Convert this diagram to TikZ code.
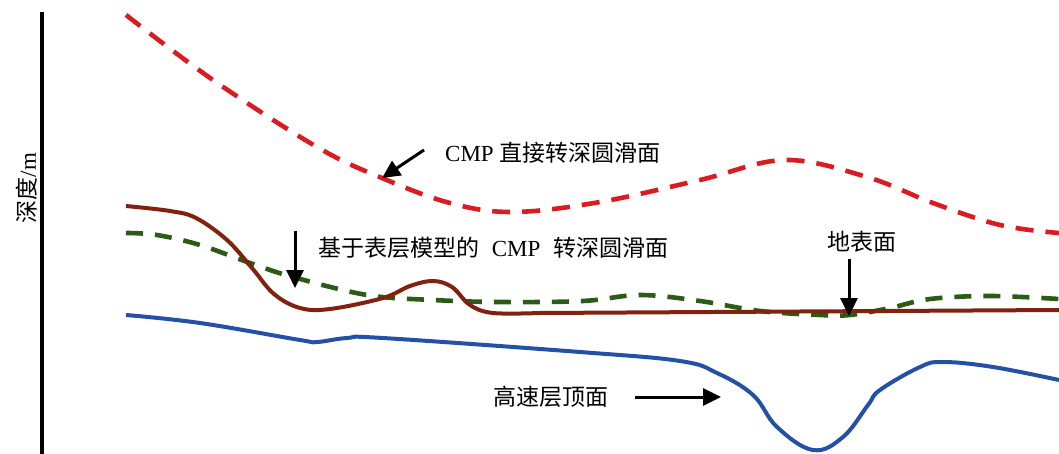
\documentclass[tikz,border=0pt]{standalone}
\usepackage{fontspec}
\setmainfont{Liberation Serif}
\newfontfamily\cjk{Noto Sans CJK SC}
\usetikzlibrary{arrows.meta}
\definecolor{cred}{RGB}{218,28,32}
\definecolor{cgreen}{RGB}{42,92,22}
\definecolor{cbrown}{RGB}{128,34,14}
\definecolor{cblue}{RGB}{36,80,165}
\tikzset{
  lbl/.style={font=\fontsize{23}{27}\selectfont, inner sep=0pt},
  pointer/.style={line width=3pt, -{Triangle[length=18pt,width=17pt]}},
  reddash/.style={cred, line width=4.6pt, dash pattern=on 18pt off 12pt},
  greendash/.style={cgreen, line width=4.6pt, dash pattern=on 17pt off 12pt},
  brownline/.style={cbrown, line width=4pt, line join=round},
  blueline/.style={cblue, line width=4pt, line join=round},
}
\begin{document}
\begin{tikzpicture}[x=1pt,y=-1pt]
\useasboundingbox[fill=white] (0,0) rectangle (1059,454);
% axis
\coordinate (axtop) at (42,12);
\coordinate (axbot) at (42,454);
\draw[line width=4.5pt] (axtop) -- (axbot);
\node[lbl, rotate=90] (ylab) at (27,188) {{\cjk 深度}/m};
% red dashed
\draw[reddash] plot[smooth, tension=0.6] coordinates {(126,15) (213,80) (317,147) (382,178) (450,203) (513,212) (600,202) (700,180) (785,160) (867,177) (933,203) (1000,225) (1059,233)};
% green dashed
\draw[greendash] plot[smooth, tension=0.6] coordinates {(126,233) (157,235) (200,245) (250,263) (293,277) (367,295) (433,300) (500,302) (583,301) (640,295) (700,301) (760,311) (820,315) (850,315) (890,308) (930,299) (990,296) (1059,299)};
% brown surface
\draw[brownline] plot[smooth, tension=0.6] coordinates {(126,206) (170,211) (196,218) (227,240) (252,268) (274,294) (300,308) (330,309) (383,298) (410,286) (433,281) (452,287) (470,305) (493,313) (540,313)} -- (1059,310);
% blue high-velocity top
\draw[blueline] plot[smooth, tension=0.65] coordinates {(126,315) (200,323) (300,340) (317,342) (347,338) (383,338) (580,352) (680,361) (717,373) (753,395) (777,427) (813,450) (843,437) (868,405) (880,390) (920,367) (943,362) (993,367) (1059,380)};
% labels
\node[lbl, anchor=west] (l1) at (445,153) {CMP {\cjk 直接转深圆滑面}};
\node[lbl, anchor=west] (l2) at (318,248) {{\cjk 基于表层模型的}\hspace{0.55em}CMP\hspace{0.55em}{\cjk 转深圆滑面}};
\node[lbl] (l3) at (862,242) {\cjk 地表面};
\node[lbl, anchor=west] (l4) at (493,397) {\cjk 高速层顶面};
% arrows
\coordinate (a1s) at (424,150); \coordinate (a1e) at (382,178);
\coordinate (a2s) at (295,231); \coordinate (a2e) at (295,288);
\coordinate (a3s) at (849,259); \coordinate (a3e) at (849,316);
\coordinate (a4s) at (635,397); \coordinate (a4e) at (721,397);
\draw[pointer] (a1s) -- (a1e);
\draw[pointer] (a2s) -- (a2e);
\draw[pointer] (a3s) -- (a3e);
\draw[pointer] (a4s) -- (a4e);
\end{tikzpicture}
\end{document}
